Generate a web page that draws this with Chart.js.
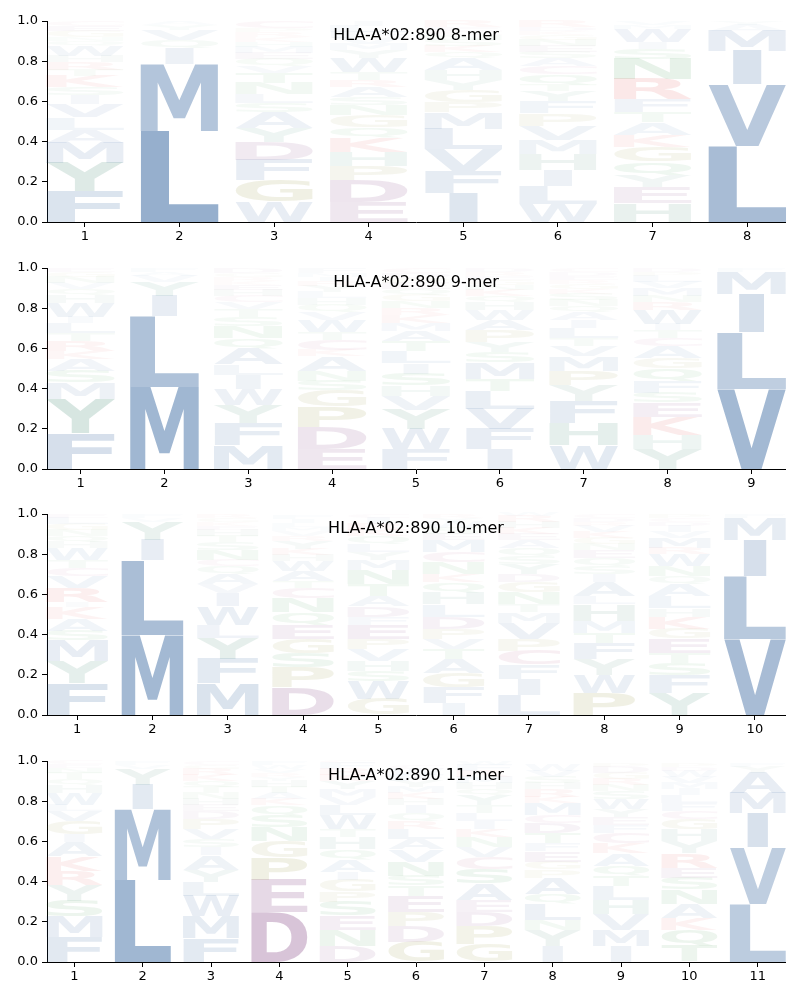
<!DOCTYPE html>
<html>
<head>
<meta charset="utf-8">
<script src="https://cdn.jsdelivr.net/npm/chart.js@4.4.1/dist/chart.umd.min.js"></script>
<style>
  body { margin: 0; background: #fff; }
  canvas { position: absolute; left: 0; }
</style>
</head>
<body>
<canvas id="c8" width="800" height="246" style="top:0px"></canvas>
<canvas id="c9" width="800" height="246" style="top:247px"></canvas>
<canvas id="c10" width="800" height="246" style="top:493px"></canvas>
<canvas id="c11" width="800" height="246" style="top:740px"></canvas>
<script>
// letters listed bottom -> top for each position, heights in the same order
const titles = ['HLA-A*02:890 8-mer', 'HLA-A*02:890 9-mer', 'HLA-A*02:890 10-mer', 'HLA-A*02:890 11-mer'];
const yTicks = [0, 0.2, 0.4, 0.6, 0.8, 1.0];

const letters8 = ['FYMALVISKTRHWQNGEC', 'LMIQVYA', 'WGFDYASLNTVQEMHKRPC', 'EDPHKQGNSARTWYMVFLI',
  'IFVLMPGYHAQKSNCER', 'WLIHMVPFYTQCASENGKDR', 'HEYQGKATFRNSIWMV', 'LVIMAY'];
const heights8 = [
  [.155, .14, .10, .065, .06, .065, .045, .04, .055, .03, .04, .03, .05, .025, .02, .03, .025, .025],
  [.455, .33, .08, .04, .05, .025, .02],
  [.10, .11, .10, .09, .07, .075, .045, .045, .055, .05, .035, .035, .03, .03, .025, .025, .025, .02, .035],
  [.10, .11, .07, .07, .07, .05, .06, .05, .04, .05, .035, .04, .07, .04, .03, .03, .03, .03, .025],
  [.145, .11, .11, .10, .08, .05, .06, .05, .05, .06, .03, .03, .03, .025, .02, .02, .03],
  [.09, .09, .08, .08, .07, .07, .06, .06, .05, .035, .05, .04, .04, .03, .03, .03, .025, .02, .02, .03],
  [.095, .08, .06, .065, .075, .06, .06, .05, .065, .10, .10, .05, .035, .065, .02, .02],
  [.38, .305, .165, .10, .03, .02]
];

const letters9 = ['FYMSAKRTLIWHQVNGE', 'MLIYVAF', 'MFYWILAQNSTVCHEKRGD', 'EDPGSNAKCTWVQHLYRIMF',
  'FWYVHSILTAMKRNGQEPDC', 'IFVLTMSYPAWHQKNGERD', 'WHFYPMVTLIAQNSKGREDC', 'YHKESFQGACTIWRNMVLPD', 'VLIMF'];
const heights9 = [
  [.18, .17, .08, .06, .055, .04, .05, .04, .05, .03, .07, .04, .03, .03, .03, .025, .02],
  [.41, .35, .10, .07, .03, .02, .02],
  [.12, .11, .09, .08, .07, .05, .08, .05, .06, .045, .04, .035, .03, .03, .025, .02, .02, .02, .025],
  [.10, .11, .10, .08, .05, .05, .07, .03, .05, .04, .06, .04, .035, .035, .03, .03, .025, .02, .02, .025],
  [.10, .10, .095, .07, .05, .06, .05, .06, .05, .05, .04, .04, .035, .035, .03, .03, .03, .025, .025, .025],
  [.10, .10, .10, .09, .06, .08, .05, .05, .06, .05, .05, .04, .03, .03, .025, .025, .02, .02, .02],
  [.12, .11, .11, .08, .07, .07, .05, .04, .05, .04, .04, .03, .03, .03, .025, .025, .02, .02, .02, .02],
  [.10, .07, .09, .07, .05, .06, .06, .05, .06, .04, .04, .03, .07, .04, .03, .04, .03, .03, .02, .02],
  [.40, .28, .19, .11, .02]
];

const letters10 = ['FYMSAKIRVCTWHQNGLE', 'MLIYVF', 'MFYLWIVAQCNSTHEKGR', 'DPSGEQNCTAWHKYRVMLIF',
  'GWSHVPEFDATNMYLQKRIC', 'IFGATVPDLHQKNCMESWYR', 'LIFCPVMTNGDYSQAEKHRW', 'PWYFTMHLAISQENGKVRDC',
  'YFSTEGKHLAQNWRMVIDCP', 'VLIMF'];
const heights10 = [
  [.16, .11, .10, .05, .06, .055, .025, .07, .06, .04, .04, .06, .03, .03, .03, .03, .03, .02],
  [.40, .37, .10, .09, .02, .02],
  [.16, .12, .105, .065, .09, .065, .045, .05, .04, .03, .05, .04, .03, .03, .02, .02, .02, .02],
  [.14, .095, .07, .075, .07, .06, .07, .05, .035, .05, .05, .03, .03, .04, .025, .025, .02, .02, .02, .02],
  [.08, .09, .05, .05, .06, .05, .07, .04, .05, .05, .06, .07, .05, .04, .04, .04, .03, .03, .03, .02],
  [.06, .08, .07, .07, .05, .05, .05, .06, .06, .06, .05, .04, .06, .05, .06, .03, .03, .03, .02, .02],
  [.10, .08, .07, .07, .06, .08, .05, .04, .06, .05, .04, .05, .04, .04, .04, .03, .03, .03, .03, .02],
  [.11, .09, .08, .08, .05, .06, .08, .04, .07, .04, .04, .04, .04, .03, .03, .03, .03, .02, .02, .02],
  [.11, .09, .06, .05, .07, .05, .06, .04, .06, .06, .04, .05, .06, .03, .05, .03, .03, .02, .02, .02],
  [.38, .31, .18, .11, .02]
];

const letters11 = ['FMSYRKAIGVLWHQTNEC', 'LMIYVF', 'FMWLYAISVPDEHNTQKRGC', 'DEPGNSQKATHYRVWF',
  'DNESPGIAQHTWLVMYKRFC', 'GDPETSNVALRQIHKMYFWC', 'GPDEASCVNKILTYQHMRFW', 'IYNLQAPGEFTDCMKRHSVW',
  'IMVHLTQAKCFEYWSNRGDP', 'TQKANSERYHGCFLIMVWDP', 'LVIMAYF'];
const heights11 = [
  [.125, .10, .08, .08, .07, .07, .07, .04, .065, .05, .03, .06, .04, .03, .03, .025, .02, .02],
  [.41, .35, .12, .08, .02, .02],
  [.12, .11, .10, .07, .06, .07, .04, .04, .05, .05, .04, .03, .03, .03, .03, .03, .03, .03, .02, .02],
  [.25, .16, .11, .08, .07, .06, .05, .03, .03, .03, .03, .02, .02, .02, .02, .02],
  [.08, .08, .07, .07, .05, .06, .04, .06, .05, .06, .04, .07, .05, .04, .04, .04, .03, .03, .03, .015],
  [.10, .08, .07, .08, .05, .05, .07, .06, .05, .05, .04, .04, .04, .03, .03, .03, .03, .03, .03, .02],
  [.09, .09, .07, .06, .08, .07, .06, .05, .05, .04, .04, .04, .04, .05, .03, .03, .03, .03, .03, .02],
  [.08, .08, .05, .08, .05, .08, .04, .04, .05, .04, .05, .05, .04, .06, .03, .04, .03, .03, .03, .03],
  [.08, .08, .08, .07, .07, .05, .05, .06, .05, .05, .04, .04, .04, .05, .04, .03, .03, .03, .03, .02],
  [.08, .08, .06, .07, .07, .06, .05, .07, .06, .06, .05, .04, .04, .04, .03, .03, .03, .03, .02, .02],
  [.29, .28, .17, .10, .10, .03, .02]
];

// amino acid colour groups, alpha follows the letter height
const groupRGB = {
  AVILMFW: [25, 80, 145],
  DE: [100, 20, 100],
  KR: [215, 30, 30],
  PG: [120, 120, 10],
  STNQ: [20, 130, 40],
  HY: [20, 108, 78],
  C: [160, 30, 90]
};
function letterColor(ch, h) {
  for (const k in groupRGB) {
    if (k.includes(ch)) {
      const c = groupRGB[k];
      return `rgba(${c[0]},${c[1]},${c[2]},${Math.min(1, h)})`;
    }
  }
  return `rgba(0,0,0,${h})`;
}

const GLYPH_FONT = 'bold 200px "DejaVu Sans"';

function logoPlugin(letters, title) {
  return {
    id: 'logo',
    afterDatasetsDraw(chart) {
      const ctx = chart.ctx;
      const area = chart.chartArea;
      ctx.save();
      ctx.font = GLYPH_FONT;
      // narrow glyphs (I) are not stretched past the width of an L
      const mL = ctx.measureText('L');
      const refW = mL.actualBoundingBoxLeft + mL.actualBoundingBoxRight;
      chart.data.datasets.forEach((ds, k) => {
        const meta = chart.getDatasetMeta(k);
        meta.data.forEach((bar, i) => {
          const ch = letters[i][k];
          const v = ds.data[i].y;
          if (!ch || !v) return;
          const p = bar.getProps(['x', 'y', 'base', 'width'], true);
          const top = Math.min(p.y, p.base);
          const h = Math.abs(p.base - p.y);
          ctx.font = GLYPH_FONT;
          ctx.textAlign = 'left';
          ctx.textBaseline = 'alphabetic';
          const m = ctx.measureText(ch);
          const gw = m.actualBoundingBoxLeft + m.actualBoundingBoxRight;
          const gh = m.actualBoundingBoxAscent + m.actualBoundingBoxDescent;
          const sx = Math.min(p.width / gw, p.width / refW);
          ctx.save();
          ctx.translate(p.x - (gw * sx) / 2, top);
          ctx.scale(sx, h / gh);
          ctx.fillStyle = letterColor(ch, v);
          ctx.fillText(ch, m.actualBoundingBoxLeft, m.actualBoundingBoxAscent);
          ctx.restore();
        });
      });
      // title sits inside the axes
      ctx.font = '16px "DejaVu Sans"';
      ctx.fillStyle = '#000';
      ctx.textAlign = 'center';
      ctx.textBaseline = 'middle';
      ctx.fillText(title, (area.left + area.right) / 2, area.top + 15);
      ctx.restore();
    }
  };
}

function drawLogo(id, title, letters, heights) {
  const n = letters.length;
  const depth = Math.max(...letters.map(s => s.length));
  const datasets = [];
  for (let k = 0; k < depth; k++) {
    datasets.push({
      data: heights.map((col, i) => ({ x: i + 1, y: col[k] || 0 })),
      backgroundColor: 'rgba(0,0,0,0)',
      borderWidth: 0,
      barPercentage: 0.82,
      categoryPercentage: 1.0
    });
  }
  new Chart(document.getElementById(id), {
    type: 'bar',
    data: { datasets: datasets },
    plugins: [logoPlugin(letters, title)],
    options: {
      responsive: false,
      animation: false,
      layout: { padding: { top: 21, right: 15, left: 0, bottom: 0 } },
      plugins: { legend: { display: false }, tooltip: { enabled: false } },
      scales: {
        x: {
          type: 'linear',
          stacked: true,
          offset: false,
          min: 0.6,
          max: n + 0.4,
          afterBuildTicks: (scale) => { scale.ticks = letters.map((_, i) => ({ value: i + 1 })); },
          afterFit: (scale) => { scale.height = 24; },
          ticks: { color: '#000', font: { family: 'DejaVu Sans', size: 13 }, padding: 2, maxRotation: 0 },
          grid: { display: true, offset: false, drawOnChartArea: false, drawTicks: true, tickLength: 5, color: '#000' },
          border: { display: true, color: '#000', width: 1 }
        },
        y: {
          stacked: true,
          min: 0,
          max: 1,
          afterBuildTicks: (scale) => { scale.ticks = yTicks.map(v => ({ value: v })); },
          afterFit: (scale) => { scale.width = 47; },
          ticks: {
            color: '#000',
            font: { family: 'DejaVu Sans', size: 13 },
            padding: 4,
            callback: (v) => Number(v).toFixed(1)
          },
          grid: { display: true, drawOnChartArea: false, drawTicks: true, tickLength: 5, color: '#000' },
          border: { display: true, color: '#000', width: 1 }
        }
      }
    }
  });
}

drawLogo('c8', titles[0], letters8, heights8);
drawLogo('c9', titles[1], letters9, heights9);
drawLogo('c10', titles[2], letters10, heights10);
drawLogo('c11', titles[3], letters11, heights11);
</script>
</body>
</html>
